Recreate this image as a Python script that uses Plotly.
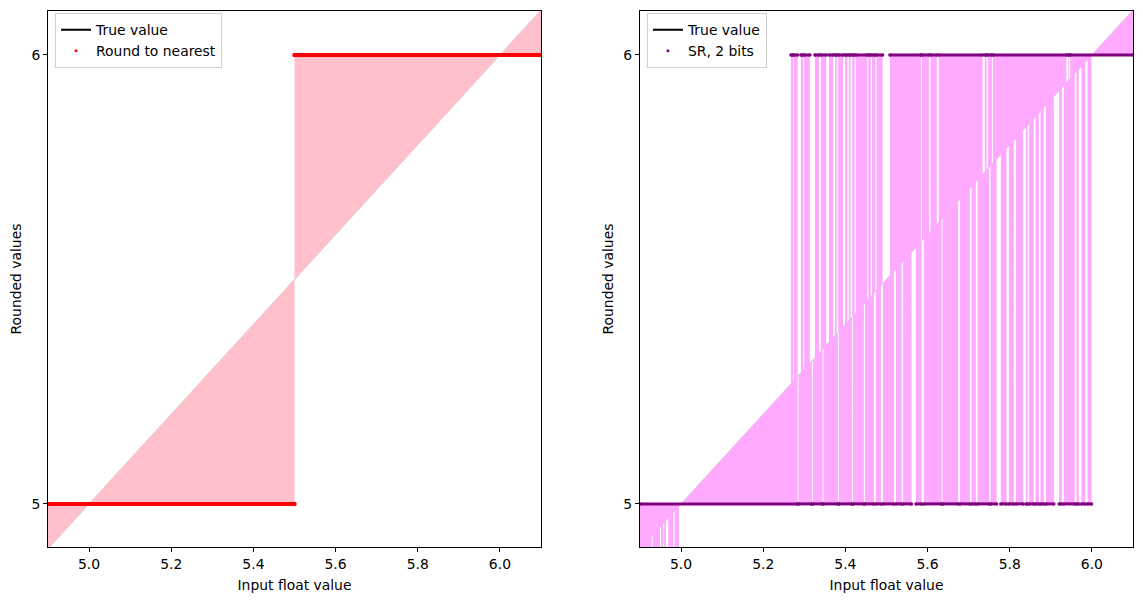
import plotly.graph_objects as go

# ---------------- data ----------------
X_RANGE = [4.9, 6.1]
Y_RANGE = [4.904, 6.098]
x_ticks = [5.0, 5.2, 5.4, 5.6, 5.8, 6.0]
x_tick_labels = ["5.0", "5.2", "5.4", "5.6", "5.8", "6.0"]
y_ticks = [5, 6]
y_tick_labels = ["5", "6"]

# True value line endpoints (y = x)
true_x = [4.9, 6.1]
true_y = [4.9, 6.1]

# Left panel: round to nearest -> input intervals (start, end) and rounded value
rn_to5 = [(4.9, 5.5)]
rn_to6 = [(5.5, 6.1)]

# Right panel: stochastic rounding (2 bits), input intervals
sr_to4 = [(4.9, 4.9285), (4.9309, 4.9487), (4.9511, 4.9567), (4.9591, 4.9633),
          (4.9689, 4.9810), (4.9844, 4.9949)]
sr_to5 = [(4.9, 5.2837), (5.2859, 5.3182), (5.3207, 5.3440), (5.3465, 5.3818),
          (5.3842, 5.4158), (5.4182, 5.4450), (5.4474, 5.4693), (5.4742, 5.4864),
          (5.4912, 5.5180), (5.5229, 5.5366), (5.5404, 5.5608), (5.5716, 5.5855),
          (5.5910, 5.6341), (5.6365, 5.6745), (5.6786, 5.7029), (5.7071, 5.7175),
          (5.7217, 5.7499), (5.7533, 5.7679), (5.7783, 5.7922), (5.7978, 5.8100),
          (5.8148, 5.8326), (5.8392, 5.8433), (5.8472, 5.8586), (5.8628, 5.8708),
          (5.8749, 5.8830), (5.8878, 5.9073), (5.9202, 5.9268), (5.9316, 5.9584),
          (5.9625, 5.9681), (5.9747, 5.9835), (5.9893, 5.9990)]
sr_to6 = [(5.2674, 5.2730), (5.2747, 5.2837), (5.2917, 5.2973), (5.2998, 5.3136),
          (5.3258, 5.3363), (5.3404, 5.3533), (5.3599, 5.3703), (5.3745, 5.3786),
          (5.3825, 5.3946), (5.3988, 5.4044), (5.4085, 5.4127), (5.4165, 5.4224),
          (5.4255, 5.4530), (5.4560, 5.4616), (5.4645, 5.4730), (5.4759, 5.4905),
          (5.5083, 5.5837), (5.5861, 5.6036), (5.6073, 5.6226), (5.6275, 5.7338),
          (5.7394, 5.7436), (5.7467, 5.7564), (5.7589, 5.9377), (5.9426, 5.9447),
          (5.9474, 6.1)]

# ---------------- styles ----------------
FONT = "DejaVu Sans"
FS = 13.9
PINK = "#FFC0CB"
SR_FILL = "#FFAAFF"
RED = "#FF0000"
PURPLE = "#800080"


def fill_polys(groups):
    xs, ys = [], []
    for intervals, v in groups:
        for a, b in intervals:
            xs += [a, a, b, b, a, None]
            ys += [a, v, v, b, a, None]
    return xs, ys


def dot_rows(groups):
    xs, ys = [], []
    for intervals, v in groups:
        for a, b in intervals:
            xs += [a, b, None]
            ys += [v, v, None]
    return xs, ys


fig = go.Figure()

panels = [
    dict(xa="x", ya="y", leg="legend", fill=PINK, dot=RED, dot_w=4, dot_ms=4.5,
         name="Round to nearest", groups=[(rn_to5, 5), (rn_to6, 6)]),
    dict(xa="x2", ya="y2", leg="legend2", fill=SR_FILL, dot=PURPLE, dot_w=3, dot_ms=3.5,
         name="SR, 2 bits", groups=[(sr_to4, 4), (sr_to5, 5), (sr_to6, 6)]),
]

for p in panels:
    # true value (mostly hidden beneath fill)
    fig.add_trace(go.Scatter(x=true_x, y=true_y, mode="lines",
                             line=dict(color="rgba(0,0,0,0.35)", width=0.6),
                             xaxis=p["xa"], yaxis=p["ya"], showlegend=False,
                             hoverinfo="skip"))
    fx, fy = fill_polys(p["groups"])
    fig.add_trace(go.Scatter(x=fx, y=fy, mode="lines", fill="toself",
                             fillcolor=p["fill"], line=dict(width=0),
                             xaxis=p["xa"], yaxis=p["ya"], showlegend=False,
                             hoverinfo="skip"))
    dx, dy = dot_rows(p["groups"])
    fig.add_trace(go.Scatter(x=dx, y=dy, mode="lines+markers",
                             line=dict(color=p["dot"], width=p["dot_w"]),
                             marker=dict(color=p["dot"], size=p["dot_ms"]),
                             xaxis=p["xa"], yaxis=p["ya"], showlegend=False,
                             hoverinfo="skip"))
    # legend entries
    fig.add_trace(go.Scatter(x=[None], y=[None], mode="lines",
                             line=dict(color="black", width=2), name="True value",
                             xaxis=p["xa"], yaxis=p["ya"], legend=p["leg"]))
    fig.add_trace(go.Scatter(x=[None], y=[None], mode="markers",
                             marker=dict(color=p["dot"], size=3), name=p["name"],
                             xaxis=p["xa"], yaxis=p["ya"], legend=p["leg"]))

axis_common = dict(showline=True, mirror=True, linecolor="black", linewidth=1,
                   ticks="outside", ticklen=4, tickwidth=1, tickcolor="black",
                   showgrid=False, zeroline=False,
                   tickfont=dict(family=FONT, size=FS, color="black"))

xcfg = dict(axis_common, range=X_RANGE, tickvals=x_ticks, ticktext=x_tick_labels,
            title=dict(text="Input float value", font=dict(family=FONT, size=FS, color="black"),
                       standoff=9))
ycfg = dict(axis_common, range=Y_RANGE, tickvals=y_ticks, ticktext=y_tick_labels,
            title=dict(text="Rounded values", font=dict(family=FONT, size=FS, color="black"),
                       standoff=6))

legend_common = dict(bgcolor="white", bordercolor="#d0d0d0", borderwidth=1,
                     font=dict(family=FONT, size=FS, color="black"),
                     xanchor="left", yanchor="top", tracegroupgap=0)

fig.update_layout(
    width=1143, height=602,
    margin=dict(l=48, r=10, t=11, b=55, autoexpand=False),
    paper_bgcolor="white", plot_bgcolor="white",
    font=dict(family=FONT, size=FS, color="black"),
    xaxis=dict(xcfg, domain=[0, 0.45438], anchor="y"),
    yaxis=dict(ycfg, domain=[0, 1], anchor="x"),
    xaxis2=dict(xcfg, domain=[0.54562, 1], anchor="y2"),
    yaxis2=dict(ycfg, domain=[0, 1], anchor="x2"),
    legend=dict(legend_common, x=0.0065, y=0.996),
    legend2=dict(legend_common, x=0.552, y=0.996),
)

fig.write_html("out.html")
